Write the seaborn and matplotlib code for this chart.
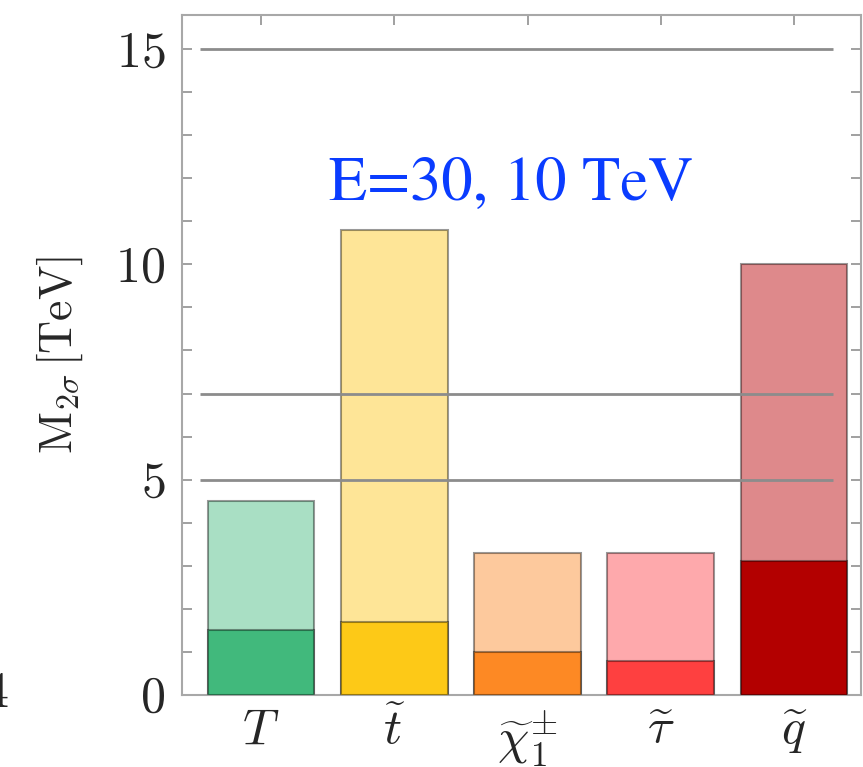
import pandas as pd
import seaborn as sns
import matplotlib.pyplot as plt

# particles and their bounds (TeV)
particles = ['T', 't', 'chi', 'tau', 'q']
tick_labels = [r'$T$', r'$\widetilde{t}$', r'$\widetilde{\chi}_1^{\pm}$',
               r'$\widetilde{\tau}$', r'$\widetilde{q}$']
reach_high = [4.5, 10.8, 3.3, 3.3, 10.0]
reach_low = [1.5, 1.7, 1.0, 0.8, 3.1]
light_colors = ['#a9dfc4', '#fee597', '#fdc99d', '#fea9ac', '#de898b']
dark_colors = ['#41b97c', '#fdc917', '#fd8924', '#fe4040', '#b30000']
ref_lines = [15, 7, 5]
label_text = 'E=30, 10 TeV'

df = pd.DataFrame({'particle': particles, 'high': reach_high, 'low': reach_low})

sns.set_style('ticks')
plt.rcParams['mathtext.fontset'] = 'cm'
plt.rcParams['font.serif'] = ['STIXGeneral', 'DejaVu Serif']
plt.rcParams['font.family'] = ['serif']

fig = plt.figure(figsize=(8.63, 7.67), dpi=100)
ax = fig.add_axes([0.2109, 0.0939, 0.7868, 0.8865])

edge = (0, 0, 0, 0.4)
sns.barplot(data=df, x='particle', y='high', hue='particle', order=particles,
            palette=light_colors, saturation=1, width=0.8, edgecolor=edge,
            linewidth=1.5, legend=False, ax=ax, zorder=2)
sns.barplot(data=df, x='particle', y='low', hue='particle', order=particles,
            palette=dark_colors, saturation=1, width=0.8, edgecolor=edge,
            linewidth=1.5, legend=False, ax=ax, zorder=3)

ax.hlines(ref_lines, -0.46, 4.29, colors='#8c8c8c', linewidth=2, zorder=4)

ax.set_xlim(-0.593, 4.503)
ax.set_ylim(0, 15.79)
ax.set_xticks(range(len(particles)))
ax.set_xticklabels(tick_labels)
ax.set_yticks([0, 5, 10, 15])
ax.set_yticklabels([r'$0$', r'$5$', r'$10$', r'$15$'])
ax.set_yticks(range(0, 16), minor=True)
ax.set_xlabel('')
ax.set_ylabel(r'$\mathrm{M}_{2\sigma}\,[\mathrm{TeV}]$', fontsize=33, labelpad=22)

for s in ax.spines.values():
    s.set_color('#a8a8a8')
    s.set_linewidth(1.5)
ax.tick_params(which='both', direction='in', top=True, right=True,
               color='#999999', width=1.3)
ax.tick_params(axis='y', which='major', length=7, labelsize=36, pad=12)
ax.tick_params(axis='y', which='minor', length=7)
ax.tick_params(axis='x', which='major', length=7, labelsize=36, pad=10)

ax.text(1.88, 11.84, label_text, color='#0a3cff', fontsize=45,
        fontfamily=['STIXGeneral', 'DejaVu Serif'],
        ha='center', va='center', zorder=5)

# cut-off tick label from the neighbouring panel
fig.text(-0.02, 0.093, r'$4$', fontsize=36, va='center', ha='left')

fig.savefig('out.png', dpi=100)
